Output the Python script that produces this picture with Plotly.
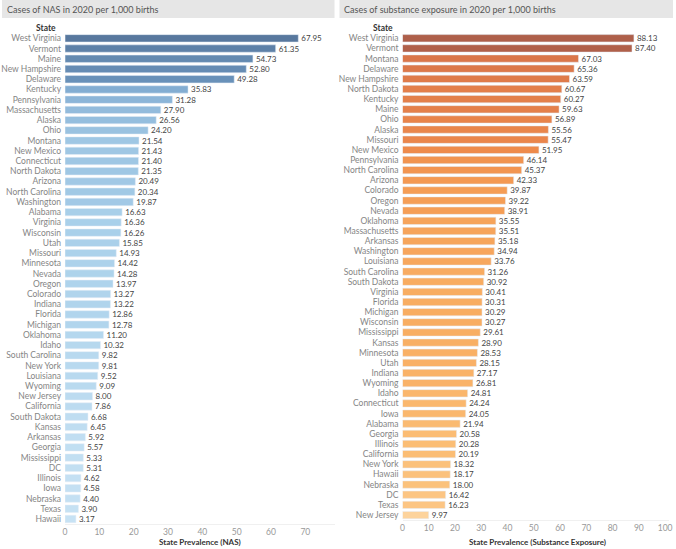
import plotly.graph_objects as go

# NAS cases per 1,000 births, 2020
nas_states = ['West Virginia', 'Vermont', 'Maine', 'New Hampshire', 'Delaware', 'Kentucky',
              'Pennsylvania', 'Massachusetts', 'Alaska', 'Ohio', 'Montana', 'New Mexico',
              'Connecticut', 'North Dakota', 'Arizona', 'North Carolina', 'Washington',
              'Alabama', 'Virginia', 'Wisconsin', 'Utah', 'Missouri', 'Minnesota', 'Nevada',
              'Oregon', 'Colorado', 'Indiana', 'Florida', 'Michigan', 'Oklahoma', 'Idaho',
              'South Carolina', 'New York', 'Louisiana', 'Wyoming', 'New Jersey', 'California',
              'South Dakota', 'Kansas', 'Arkansas', 'Georgia', 'Mississippi', 'DC', 'Illinois',
              'Iowa', 'Nebraska', 'Texas', 'Hawaii']
nas_values = [67.95, 61.35, 54.73, 52.80, 49.28, 35.83, 31.28, 27.90, 26.56, 24.20, 21.54, 21.43,
              21.40, 21.35, 20.49, 20.34, 19.87, 16.63, 16.36, 16.26, 15.85, 14.93, 14.42, 14.28,
              13.97, 13.27, 13.22, 12.86, 12.78, 11.20, 10.32, 9.82, 9.81, 9.52, 9.09, 8.00, 7.86,
              6.68, 6.45, 5.92, 5.57, 5.33, 5.31, 4.62, 4.58, 4.40, 3.90, 3.17]

# substance exposure cases per 1,000 births, 2020
sub_states = ['West Virginia', 'Vermont', 'Montana', 'Delaware', 'New Hampshire', 'North Dakota',
              'Kentucky', 'Maine', 'Ohio', 'Alaska', 'Missouri', 'New Mexico', 'Pennsylvania',
              'North Carolina', 'Arizona', 'Colorado', 'Oregon', 'Nevada', 'Oklahoma',
              'Massachusetts', 'Arkansas', 'Washington', 'Louisiana', 'South Carolina',
              'South Dakota', 'Virginia', 'Florida', 'Michigan', 'Wisconsin', 'Mississippi',
              'Kansas', 'Minnesota', 'Utah', 'Indiana', 'Wyoming', 'Idaho', 'Connecticut', 'Iowa',
              'Alabama', 'Georgia', 'Illinois', 'California', 'New York', 'Hawaii', 'Nebraska',
              'DC', 'Texas', 'New Jersey']
sub_values = [88.13, 87.40, 67.03, 65.36, 63.59, 60.67, 60.27, 59.63, 56.89, 55.56, 55.47, 51.95,
              46.14, 45.37, 42.33, 39.87, 39.22, 38.91, 35.55, 35.51, 35.18, 34.94, 33.76, 31.26,
              30.92, 30.41, 30.31, 30.29, 30.27, 29.61, 28.90, 28.53, 28.15, 27.17, 26.81, 24.81,
              24.24, 24.05, 21.94, 20.58, 20.28, 20.19, 18.32, 18.17, 18.00, 16.42, 16.23, 9.97]

blues = [[0, '#c7e2f4'], [0.2, '#a9d0ea'], [0.5, '#84aed3'], [0.7, '#6a92ba'], [1, '#58789e']]
oranges = [[0, '#fdd39c'], [0.13, '#fbbd74'], [0.26, '#f8ad62'], [0.38, '#f59d55'],
           [0.54, '#ee8b4c'], [0.73, '#da764a'], [1, '#ae5f4a']]

FONT = 'Lato'
W, H = 676, 549

fig = go.Figure()

fig.add_trace(go.Bar(
    x=nas_values, y=nas_states, orientation='h',
    marker=dict(color=nas_values, colorscale=blues, cmin=min(nas_values), cmax=max(nas_values)),
    texttemplate='%{x:.2f}', textposition='outside', cliponaxis=False, constraintext='none',
    textfont=dict(size=8, color='#444444', family=FONT),
    xaxis='x', yaxis='y', showlegend=False, hoverinfo='skip'
))

fig.add_trace(go.Bar(
    x=sub_values, y=sub_states, orientation='h',
    marker=dict(color=sub_values, colorscale=oranges, cmin=min(sub_values), cmax=max(sub_values)),
    texttemplate='%{x:.2f}', textposition='outside', cliponaxis=False, constraintext='none',
    textfont=dict(size=8, color='#444444', family=FONT),
    xaxis='x2', yaxis='y2', showlegend=False, hoverinfo='skip'
))

xcommon = dict(showgrid=False, zeroline=False, showline=True, linecolor='#f0f0f0',
               tickfont=dict(size=8.5, color='#999999', family=FONT), ticks='')
ycommon = dict(showgrid=False, zeroline=False, showline=False, ticks='', autorange='reversed',
               tickfont=dict(size=8.5, color='#858585', family=FONT), ticklabelstandoff=3,
               tickmode='array')

fig.update_layout(
    width=W, height=H,
    margin=dict(l=0, r=0, t=0, b=0),
    paper_bgcolor='white', plot_bgcolor='white',
    bargap=0.28,
    font=dict(family=FONT),
    xaxis=dict(domain=[63.5 / W, 335 / W], range=[0, 78.5], anchor='y',
               tickvals=[0, 10, 20, 30, 40, 50, 60, 70], **xcommon),
    yaxis=dict(domain=[1 - 524.1 / H, 1 - 33.2 / H], anchor='x',
               tickvals=nas_states, ticktext=nas_states, **ycommon),
    xaxis2=dict(domain=[403.5 / W, 672 / W], range=[0, 101.5], anchor='y2',
                tickvals=[0, 10, 20, 30, 40, 50, 60, 70, 80, 90, 100], **xcommon),
    yaxis2=dict(domain=[1 - 520.1 / H, 1 - 33.2 / H], anchor='x2',
                tickvals=sub_states, ticktext=sub_states, **ycommon),
    shapes=[
        dict(type='rect', xref='paper', yref='paper', x0=0, x1=335 / W, y0=1 - 18 / H, y1=1,
             fillcolor='#e6e6e6', line=dict(width=0), layer='below'),
        dict(type='rect', xref='paper', yref='paper', x0=340 / W, x1=1, y0=1 - 18 / H, y1=1,
             fillcolor='#e6e6e6', line=dict(width=0), layer='below'),
    ],
)

annos = [
    (3 / W, 1 - 9.5 / H, 'Cases of NAS in 2020 per 1,000 births', 'left', 'middle', 9, '#555555'),
    (343 / W, 1 - 9.5 / H, 'Cases of substance exposure in 2020 per 1,000 births', 'left', 'middle', 9, '#555555'),
    (56 / W, 1 - 28 / H, '<b>State</b>', 'right', 'middle', 8.5, '#333333'),
    (396 / W, 1 - 28 / H, '<b>State</b>', 'right', 'middle', 8.5, '#333333'),
    (199 / W, 0, '<b>State Prevalence (NAS)</b>', 'center', 'bottom', 8, '#333333'),
    (539 / W, 0, '<b>State Prevalence (Substance Exposure)</b>', 'center', 'bottom', 8, '#333333'),
]
for x, y, t, xanc, yanc, size, col in annos:
    fig.add_annotation(x=x, y=y, xref='paper', yref='paper', text=t, showarrow=False,
                       xanchor=xanc, yanchor=yanc, font=dict(size=size, color=col, family=FONT))

# the page body has a default 8px margin; drop it so the chart fills the window
fig.write_html('out.html', config={'displayModeBar': False},
               post_script="document.body.style.margin='0';")
